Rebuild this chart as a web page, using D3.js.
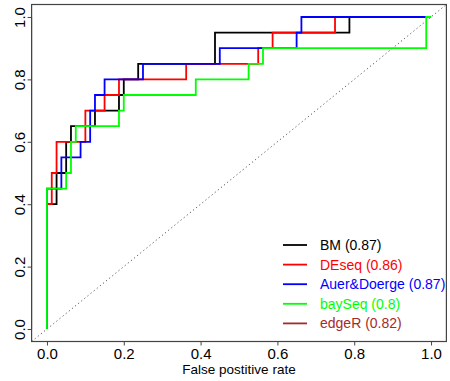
<!DOCTYPE html>
<html>
<head>
<meta charset="utf-8">
<script src="https://cdn.jsdelivr.net/npm/d3@7"></script>
<style>
  body { margin: 0; background: #fff; }
  text { font-family: "Liberation Sans", Arial, sans-serif; }
</style>
</head>
<body>
<div id="chart"></div>
<script>
// ROC curves, points are (fpr, tpr after the jump)
const bmFpr = [0, 0, 0.025, 0.05, 0.0625, 0.125, 0.1875, 0.2, 0.2375, 0.4375, 0.7875, 1]
const bmTpr = [0, 0.4, 0.5, 0.6, 0.65, 0.7, 0.75, 0.8, 0.85, 0.95, 1, 1]
const deseqFpr = [0, 0, 0.0125, 0.025, 0.1, 0.15, 0.1875, 0.3625, 0.55, 0.5875, 0.75, 1]
const deseqTpr = [0, 0.4, 0.5, 0.6, 0.7, 0.75, 0.8, 0.85, 0.9, 0.95, 1, 1]
const auerFpr = [0, 0, 0.0375, 0.0875, 0.1125, 0.125, 0.15, 0.25, 0.45, 0.65, 0.6625, 1]
const auerTpr = [0, 0.45, 0.55, 0.6, 0.7, 0.75, 0.8, 0.85, 0.9, 0.95, 1, 1]
const bayFpr = [0, 0, 0.05, 0.0625, 0.075, 0.1875, 0.2, 0.3875, 0.525, 0.5625, 0.9875, 1]
const bayTpr = [0, 0.45, 0.5, 0.6, 0.65, 0.7, 0.75, 0.8, 0.85, 0.9, 1, 1]
const edgeRFpr = []
const edgeRTpr = []

const methods = ['BM', 'DEseq', 'Auer&Doerge', 'baySeq', 'edgeR']
const aucs = ['0.87', '0.86', '0.87', '0.8', '0.82']
const colors = ['#000000', '#ff0000', '#0000ff', '#00ff00', '#a52a2a']
const ticks = [0, 0.2, 0.4, 0.6, 0.8, 1.0]

const W = 450, H = 381
const tickFont = '"Liberation Sans Narrow", "Liberation Sans", Arial, sans-serif'
const svg = d3.select('#chart').append('svg')
  .attr('width', W)
  .attr('height', H)

const x = d3.scaleLinear().domain([-0.04, 1.04]).range([31.6, 446.4])
const y = d3.scaleLinear().domain([-0.04, 1.04]).range([341.5, 4.5])

// diagonal reference line across whole region
svg.append('line')
  .attr('x1', x(-0.04)).attr('y1', y(-0.04))
  .attr('x2', x(1.04)).attr('y2', y(1.04))
  .attr('stroke', '#555')
  .attr('stroke-width', 1)
  .attr('stroke-dasharray', '1.2,2.8')

const line = d3.line()
  .x(d => x(d[0]))
  .y(d => y(d[1]))
  .curve(d3.curveStepAfter)

const series = [
  [bmFpr, bmTpr], [deseqFpr, deseqTpr], [auerFpr, auerTpr], [bayFpr, bayTpr], [edgeRFpr, edgeRTpr]
]
series.forEach((s, i) => {
  const pts = s[0].map((f, j) => [f, s[1][j]])
  if (!pts.length) return
  svg.append('path')
    .attr('d', line(pts))
    .attr('fill', 'none')
    .attr('stroke', colors[i])
    .attr('stroke-width', 1.8)
})

// box
svg.append('rect')
  .attr('x', x(-0.04)).attr('y', y(1.04))
  .attr('width', x(1.04) - x(-0.04))
  .attr('height', y(-0.04) - y(1.04))
  .attr('fill', 'none')
  .attr('stroke', '#444')
  .attr('stroke-width', 1.2)

// axes
const xAxis = svg.append('g')
  .attr('transform', `translate(0,${y(-0.04)})`)
  .call(d3.axisBottom(x).tickValues(ticks).tickFormat(d3.format('.1f')).tickSize(4))
xAxis.select('.domain').attr('d', `M${x(0)},0H${x(1)}`).attr('stroke', '#444')
xAxis.selectAll('line').attr('stroke', '#444')
xAxis.selectAll('text')
  .attr('font-size', 15).attr('fill', '#000')
  .attr('font-family', tickFont)
  .attr('y', 17).attr('dy', 0)

const yAxis = svg.append('g')
  .attr('transform', `translate(${x(-0.04)},0)`)
  .call(d3.axisLeft(y).tickValues(ticks).tickFormat(d3.format('.1f')).tickSize(4))
yAxis.select('.domain').attr('d', `M0,${y(0)}V${y(1)}`).attr('stroke', '#444')
yAxis.selectAll('line').attr('stroke', '#444')
yAxis.selectAll('text')
  .attr('font-size', 15).attr('fill', '#000')
  .attr('font-family', tickFont)
  .attr('text-anchor', 'middle')
  .attr('x', 0).attr('y', 0).attr('dy', 0)
  .attr('transform', 'translate(-6.6,0) rotate(-90)')

svg.append('text')
  .attr('x', (x(0) + x(1)) / 2)
  .attr('y', 373.5)
  .attr('text-anchor', 'middle')
  .attr('font-size', 13.5)
  .text('False postitive rate')

// legend
const leg = svg.append('g')
methods.forEach((m, i) => {
  const ly = 245 + i * 19.6
  leg.append('line')
    .attr('x1', 283).attr('x2', 307)
    .attr('y1', ly).attr('y2', ly)
    .attr('stroke', colors[i]).attr('stroke-width', 1.8)
  leg.append('text')
    .attr('x', 320).attr('y', ly + 5)
    .attr('font-size', 14)
    .attr('fill', colors[i])
    .text(`${m} (${aucs[i]})`)
})
</script>
</body>
</html>
